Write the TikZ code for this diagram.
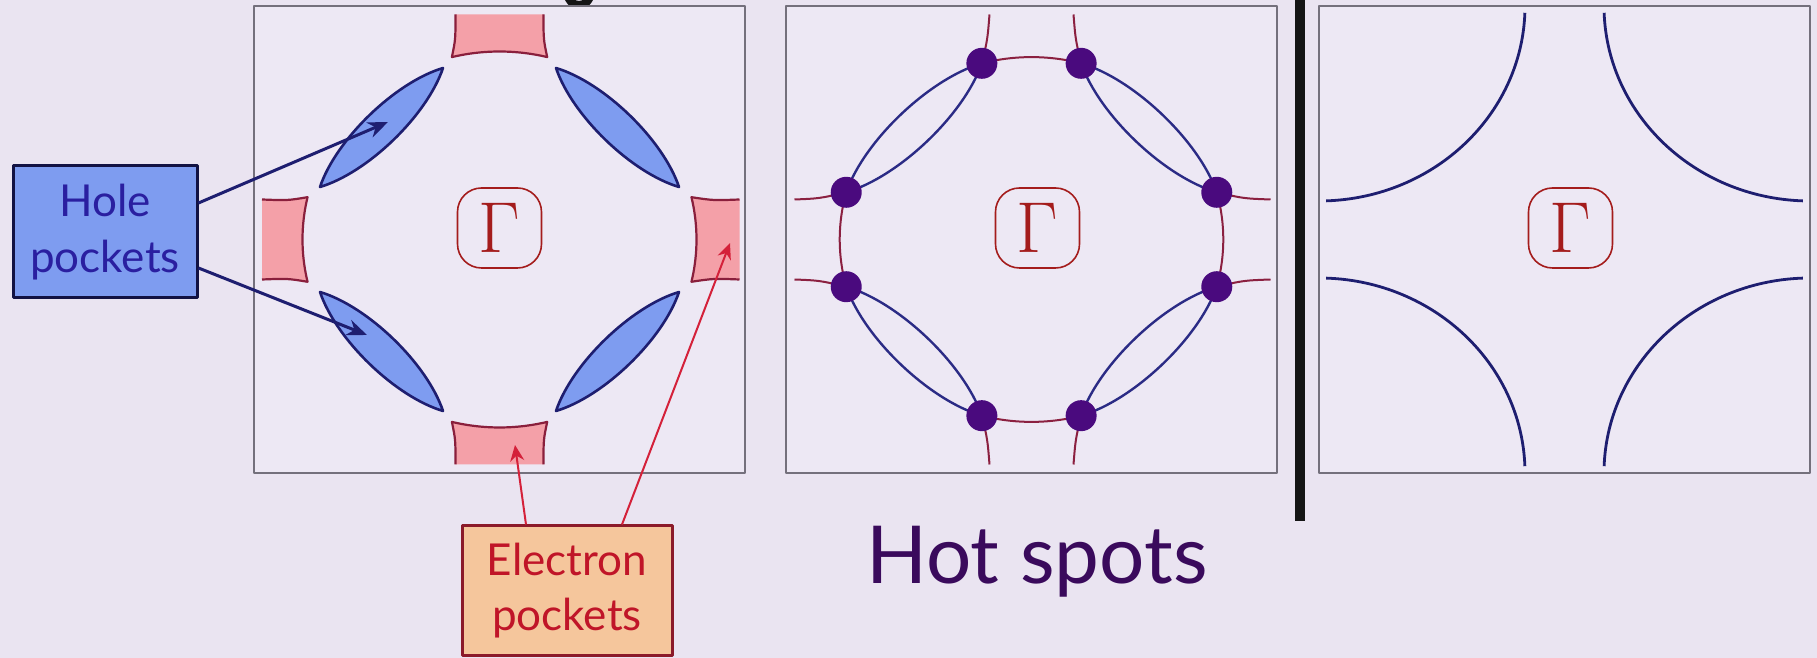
\documentclass[tikz,border=0pt]{standalone}
\usepackage[no-math]{fontspec}
\usepackage{graphicx}
\newfontfamily\gill{Lato}
\usetikzlibrary{arrows.meta,calc}
\definecolor{bgcol}{HTML}{EAE4F1}
\definecolor{panelbg}{HTML}{EDE8F4}
\definecolor{panelgray}{HTML}{74707C}
\definecolor{holefill}{HTML}{7E9CF0}
\definecolor{navy}{HTML}{1E1E70}
\definecolor{holetext}{HTML}{2A1FA0}
\definecolor{epink}{HTML}{F4A0A8}
\definecolor{edark}{HTML}{8A1F3C}
\definecolor{efill}{HTML}{F5C69C}
\definecolor{eborder}{HTML}{8B1A2A}
\definecolor{etext}{HTML}{C01528}
\definecolor{earrow}{HTML}{D4213A}
\definecolor{gred}{HTML}{A41C1C}
\definecolor{dotcol}{HTML}{4A0A7E}
\definecolor{lenscol}{HTML}{2B2B85}
\definecolor{redline}{HTML}{8B2040}
\definecolor{hotcol}{HTML}{3A0A5C}
\definecolor{barcol}{HTML}{151515}
\newcommand{\GammaBig}{\scalebox{1.45}{$\Gamma$}}
% lens between two named points: style, A, B, offset of controls
\newcommand{\drawlens}[4]{\draw[#1] (#2) .. controls ($(#2)!0.26!(#3)!#4!90:(#3)$) and ($(#2)!0.74!(#3)!#4!-90:(#2)$) .. (#3) .. controls ($(#3)!0.26!(#2)!#4!90:(#2)$) and ($(#3)!0.74!(#2)!#4!-90:(#3)$) .. (#2) -- cycle;}
\begin{document}
\begin{tikzpicture}[x=0.5pt,y=0.5pt,line join=round,
  panel/.style={draw=panelgray, line width=1pt, fill=panelbg},
  gbox/.style={draw=gred, line width=0.8pt, rounded corners=12pt, minimum width=42pt, minimum height=40pt, inner sep=0pt, text=gred, font=\fontsize{24}{24}\selectfont},
  holelens/.style={fill=holefill, draw=navy, line width=1.3pt},
  epocket/.style={fill=epink},
  eedge/.style={draw=edark, line width=1.1pt},
  lensline/.style={draw=lenscol, line width=1.2pt},
  redarc/.style={draw=redline, line width=1pt},
  hotdot/.style={fill=dotcol},
  p3arc/.style={draw=navy, line width=1.4pt},
  holebox/.style={draw=navy!60!black, line width=1.5pt, fill=holefill, minimum width=92pt, minimum height=66pt, align=center, text=holetext, inner sep=0pt, font=\gill\fontsize{22}{28}\selectfont},
  elbox/.style={draw=eborder, line width=1.5pt, fill=efill, minimum width=105pt, minimum height=65pt, align=center, text=etext, inner sep=0pt, font=\gill\fontsize{22}{27.5}\selectfont},
  holearrow/.style={draw=navy, line width=1.5pt, -{Stealth[length=10pt,width=8pt]}},
  elarrow/.style={draw=earrow, line width=1pt, -{Stealth[length=8pt,width=7pt]}}
]
\fill[bgcol] (0,0) rectangle (1817,658);
\useasboundingbox (0,0) rectangle (1817,658);

% fragment of a title letter at the top edge
\draw[barcol, line width=4pt] (579,663) ellipse (11 and 10);

% ---------- Panel 1 ----------
\begin{scope}[shift={(499.5,418.5)}]
  \draw[panel] (-245.5,-233.5) rectangle (245.5,233.5);
  % electron pockets
  \fill[epocket] (-44,225) -- (44,225) .. controls (44,200) .. (47.7,182.4) arc[start angle=76,end angle=104,x radius=197,y radius=188] .. controls (-44,200) .. (-44,225) -- cycle;
  \draw[eedge] (44,225) .. controls (44,200) .. (47.7,182.4) arc[start angle=76,end angle=104,x radius=197,y radius=188] .. controls (-44,200) .. (-44,225);
  \fill[epocket] (-44,-225) -- (44,-225) .. controls (44,-200) .. (47.7,-182.4) arc[start angle=-76,end angle=-104,x radius=197,y radius=188] .. controls (-44,-200) .. (-44,-225) -- cycle;
  \draw[eedge] (44,-225) .. controls (44,-200) .. (47.7,-182.4) arc[start angle=-76,end angle=-104,x radius=197,y radius=188] .. controls (-44,-200) .. (-44,-225);
  \fill[epocket] (-237.5,40) .. controls (-212,39) .. (-191.95,42.3) arc[start angle=167,end angle=193,x radius=197,y radius=188] .. controls (-212,-39) .. (-237.5,-40) -- cycle;
  \draw[eedge] (-237.5,40) .. controls (-212,39) .. (-191.95,42.3) arc[start angle=167,end angle=193,x radius=197,y radius=188] .. controls (-212,-39) .. (-237.5,-40);
  \fill[epocket] (240,40) .. controls (214,39) .. (191.95,42.3) arc[start angle=13,end angle=-13,x radius=197,y radius=188] .. controls (214,-39) .. (240,-40) -- cycle;
  \draw[eedge] (240,40) .. controls (214,39) .. (191.95,42.3) arc[start angle=13,end angle=-13,x radius=197,y radius=188] .. controls (214,-39) .. (240,-40);
  % hole pockets
  \coordinate (a1) at (-179.5,52.5);  \coordinate (b1) at (-56.5,171.5);
  \coordinate (a2) at (179.5,52.5);   \coordinate (b2) at (56.5,171.5);
  \coordinate (a3) at (-179.5,-52.5); \coordinate (b3) at (-56.5,-171.5);
  \coordinate (a4) at (179.5,-52.5);  \coordinate (b4) at (56.5,-171.5);
  \drawlens{holelens}{a1}{b1}{11.5pt}
  \drawlens{holelens}{a2}{b2}{11.5pt}
  \drawlens{holelens}{a3}{b3}{11.5pt}
  \drawlens{holelens}{a4}{b4}{11.5pt}
  \node[gbox] (g1) at (0,11.5) {\GammaBig};
  \coordinate (ht1) at (-111.5,117.5);
  \coordinate (ht2) at (-132.5,-95.5);
  \coordinate (et1) at (15.5,-205.5);
  \coordinate (et2) at (230.5,-3.5);
\end{scope}

% ---------- Panel 2 ----------
\begin{scope}[shift={(1031.5,418.5)}]
  \draw[panel] (-245.5,-233.5) rectangle (245.5,233.5);
  \coordinate (h15) at (185.27,47.21);
  \coordinate (h75) at (49.64,176.18);
  \coordinate (h105) at (-49.64,176.18);
  \coordinate (h165) at (-185.27,47.21);
  \coordinate (h195) at (-185.27,-47.21);
  \coordinate (h255) at (-49.64,-176.18);
  \coordinate (h285) at (49.64,-176.18);
  \coordinate (h345) at (185.27,-47.21);
  % red (electron) lines
  \draw[redarc] (h75) arc[start angle=75,end angle=105,x radius=191.8,y radius=182.4];
  \draw[redarc] (h165) arc[start angle=165,end angle=195,x radius=191.8,y radius=182.4];
  \draw[redarc] (h255) arc[start angle=255,end angle=285,x radius=191.8,y radius=182.4];
  \draw[redarc] (h345) arc[start angle=-15,end angle=15,x radius=191.8,y radius=182.4];
  \draw[redarc] (h105) .. controls (-44,200) .. (-42,225);
  \draw[redarc] (h75) .. controls (44,200) .. (42,225);
  \draw[redarc] (h255) .. controls (-44,-200) .. (-42,-225);
  \draw[redarc] (h285) .. controls (44,-200) .. (42,-225);
  \draw[redarc] (h165) .. controls (-212,41) .. (-237,40);
  \draw[redarc] (h195) .. controls (-212,-41) .. (-237,-40);
  \draw[redarc] (h15) .. controls (212,41) .. (239,40);
  \draw[redarc] (h345) .. controls (212,-41) .. (239,-40);
  % hole pocket outlines
  \drawlens{lensline}{h165}{h105}{12.5pt}
  \drawlens{lensline}{h15}{h75}{12.5pt}
  \drawlens{lensline}{h195}{h255}{12.5pt}
  \drawlens{lensline}{h345}{h285}{12.5pt}
  \foreach \h in {h15,h75,h105,h165,h195,h255,h285,h345}
    \fill[hotdot] (\h) circle (15.5);
  \node[gbox] (g2) at (6,11.5) {\GammaBig};
\end{scope}

% separator bar
\coordinate (bartop) at (1300,658);
\coordinate (barbot) at (1300,137);
\draw[barcol, line width=5pt] (bartop) -- (barbot);

% ---------- Panel 3 ----------
\begin{scope}[shift={(1564.5,418.5)}]
  \draw[panel] (-245.5,-233.5) rectangle (245.5,233.5);
  \coordinate (ctl) at (-245.5,233.5);
  \coordinate (ctr) at (245.5,233.5);
  \coordinate (cbl) at (-245.5,-233.5);
  \coordinate (cbr) at (245.5,-233.5);
  \draw[p3arc] (ctl) ++(-2:206 and 195) arc[start angle=-2,end angle=-88,x radius=206,y radius=195];
  \draw[p3arc] (ctr) ++(182:206 and 195) arc[start angle=182,end angle=268,x radius=206,y radius=195];
  \draw[p3arc] (cbl) ++(2:206 and 195) arc[start angle=2,end angle=88,x radius=206,y radius=195];
  \draw[p3arc] (cbr) ++(178:206 and 195) arc[start angle=178,end angle=92,x radius=206,y radius=195];
  \node[gbox] (g3) at (6,11.5) {\GammaBig};
\end{scope}

% ---------- labels ----------
\node[holebox] (hole) at (105,426) {Hole\\pockets};
\node[elbox] (el) at (567,67) {Electron\\pockets};
\node[anchor=base west, inner sep=0pt, text=hotcol, font=\gill\fontsize{40}{40}\selectfont] (hs) at (866,74) {Hot spots};

\draw[holearrow] ([yshift=14.5pt]hole.east) -- (ht1);
\draw[holearrow] ([yshift=-18pt]hole.east) -- (ht2);
\draw[elarrow] ([xshift=-20.5pt]el.north) -- (et1);
\draw[elarrow] ([xshift=27.5pt]el.north) -- (et2);
\end{tikzpicture}
\end{document}
